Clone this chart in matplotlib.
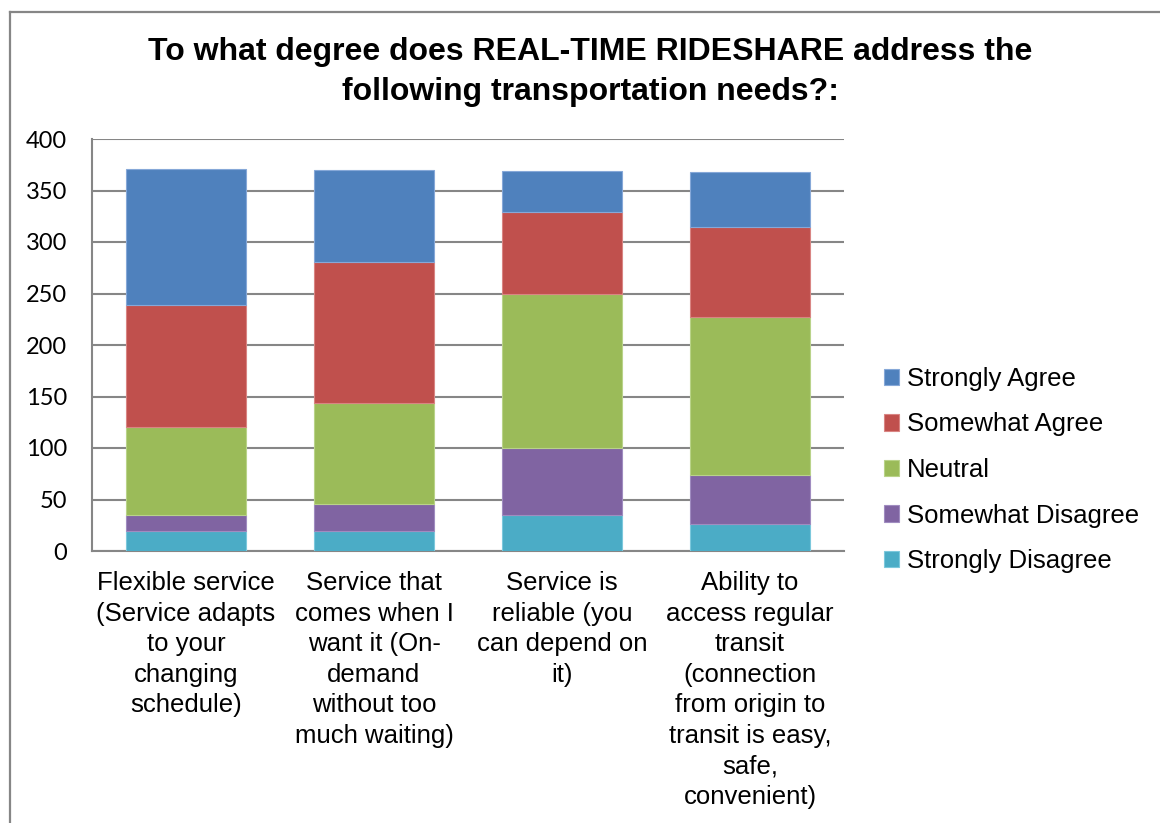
import matplotlib
matplotlib.use("Agg")
import matplotlib.pyplot as plt
from matplotlib.lines import Line2D
import numpy as np

categories = [
    "Flexible service\n(Service adapts\nto your\nchanging\nschedule)",
    "Service that\ncomes when I\nwant it (On-\ndemand\nwithout too\nmuch waiting)",
    "Service is\nreliable (you\ncan depend on\nit)",
    "Ability to\naccess regular\ntransit\n(connection\nfrom origin to\ntransit is easy,\nsafe,\nconvenient)",
]
series_names = ["Strongly Disagree", "Somewhat Disagree", "Neutral", "Somewhat Agree", "Strongly Agree"]
strongly_disagree = [19, 19, 35, 26]
somewhat_disagree = [16, 27, 65, 48]
neutral = [85, 98, 150, 153]
somewhat_agree = [119, 137, 79, 88]
strongly_agree = [132, 89, 40, 53]
colors = ["#4BACC6", "#8064A2", "#9BBB59", "#C0504D", "#4F81BD"]
edge_colors = ["#7cc8dc", "#a08cc0", "#b9d389", "#d98583", "#86a8d8"]
title = "To what degree does REAL-TIME RIDESHARE address the\nfollowing transportation needs?:"

W, H = 1160, 823
fig = plt.figure(figsize=(W / 100, H / 100), dpi=100)
fig.patch.set_facecolor("white")

# outer chart border (top and left visible)
fig.add_artist(Line2D([10 / W, 1.0], [1 - 12 / H, 1 - 12 / H], color="#868686", lw=1.6, transform=fig.transFigure))
fig.add_artist(Line2D([10 / W, 10 / W], [0, 1 - 12 / H], color="#868686", lw=1.6, transform=fig.transFigure))

ax = fig.add_axes([92 / W, 1 - 551 / H, (844 - 92) / W, (551 - 139) / H])
x = np.arange(len(categories))
data = [strongly_disagree, somewhat_disagree, neutral, somewhat_agree, strongly_agree]
bottom = np.zeros(len(categories))
handles = []
for vals, name, c, ec in zip(data, series_names, colors, edge_colors):
    b = ax.bar(x, vals, width=0.643, bottom=bottom, color=c, edgecolor=ec, linewidth=0.8, label=name, zorder=3)
    handles.append(b)
    bottom += np.array(vals)

ax.set_xlim(-0.5, 3.5)
ax.set_ylim(0, 400)
ax.set_yticks(np.arange(0, 401, 50))
ax.yaxis.grid(True, color="#868686", linewidth=1.5, zorder=0)
ax.set_axisbelow(True)
for s in ["top", "right"]:
    ax.spines[s].set_visible(False)
ax.spines["left"].set_color("#868686")
ax.spines["left"].set_linewidth(1.5)
ax.spines["bottom"].set_color("#868686")
ax.spines["bottom"].set_linewidth(1.5)
ax.tick_params(axis="y", length=0, pad=18, labelsize=17)
for lab in ax.get_yticklabels():
    lab.set_fontfamily("Lato")
ax.set_xticks(x)
ax.set_xticklabels(categories, fontsize=18.5, fontfamily="Liberation Sans", linespacing=1.345)
ax.tick_params(axis="x", length=0, pad=14.5)

fig.text(590 / W, 1 - 37 / H, title, ha="center", va="top", fontsize=23, fontweight="bold",
         fontfamily="Liberation Sans", linespacing=1.42)

leg = fig.legend(handles[::-1], series_names[::-1], loc="center left",
                 bbox_to_anchor=(884 / W, 1 - 470 / H), frameon=False,
                 prop={"family": "Liberation Sans", "size": 18.5},
                 handlelength=0.6, handleheight=0.6, handletextpad=0.3, labelspacing=0.84,
                 borderaxespad=0, borderpad=0)

fig.savefig("out.png", dpi=100, facecolor="white")
